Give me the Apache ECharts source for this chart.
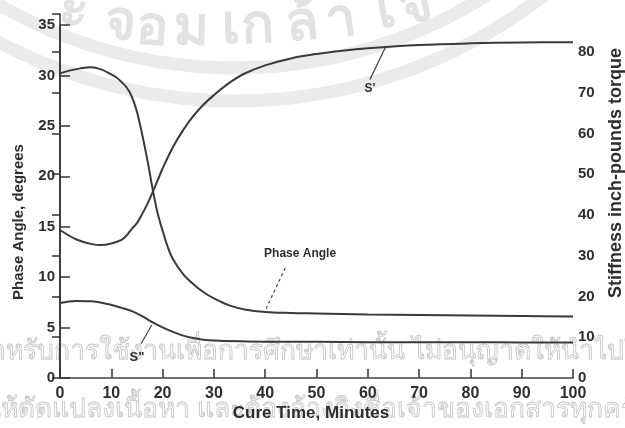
<!DOCTYPE html>
<html>
<head>
<meta charset="utf-8">
<script src="https://cdn.jsdelivr.net/npm/echarts@6/dist/echarts.min.js"></script>
<style>
html,body{margin:0;padding:0;background:#fff;}
#chart{width:625px;height:428px;}
</style>
</head>
<body>
<div id="chart"></div>
<script>
// ---- data ----
const xTicks = [0, 10, 20, 30, 40, 50, 60, 70, 80, 90, 100];
const leftTicks = [0, 5, 10, 15, 20, 25, 30, 35];
const rightTicks = [0, 10, 20, 30, 40, 50, 60, 70, 80];

const phaseTime  = [0, 2, 4, 6, 8, 10, 11, 12, 13, 14, 15, 16, 17, 18, 19, 20, 21, 22, 24, 26, 28, 30, 33, 36, 40, 45, 50, 60, 70, 80, 90, 100];
const phaseAngle = [30.2, 30.5, 30.7, 30.8, 30.6, 30.1, 29.8, 29.35, 28.8, 27.9, 26.4, 24.2, 21.7, 18.9, 16.4, 14.6, 13.0, 11.8, 10.3, 9.3, 8.5, 7.9, 7.2, 6.8, 6.55, 6.45, 6.4, 6.3, 6.25, 6.2, 6.15, 6.1];

const sPrimeTime = [0, 3, 6, 8, 10, 12, 13, 14, 15, 16, 17, 18, 19, 20, 22, 24, 26, 28, 30, 33, 36, 40, 45, 50, 55, 60, 70, 80, 90, 100];
const sPrime     = [36.3, 34.1, 32.9, 32.6, 33.0, 33.9, 35.0, 36.6, 38.0, 40.2, 42.6, 45.4, 48.4, 51.4, 56.6, 60.8, 64.3, 67.1, 69.4, 72.4, 74.7, 76.7, 78.4, 79.5, 80.3, 80.9, 81.7, 82.1, 82.3, 82.4];

const sDoubleTime = [0, 3, 6, 9, 12, 14, 16, 18, 20, 22, 24, 26, 28, 30, 35, 40, 50, 60, 70, 80, 90, 100];
const sDouble     = [18.4, 18.9, 18.8, 18.2, 17.2, 16.4, 15.2, 13.7, 12.4, 11.3, 10.4, 9.8, 9.4, 9.2, 9.0, 8.9, 8.9, 8.8, 8.8, 8.8, 8.7, 8.7];

const seriesNames = ['Phase Angle', "S'", 'S"'];
const xTitle = 'Cure Time, Minutes';
const leftTitle = 'Phase Angle, degrees';
const rightTitle = 'Stiffness inch-pounds torque';

// faint watermark texts of the scanned page
const sealChars = ['ะ', 'จ', 'อ', 'ม', 'เ', 'ก', 'ล้', 'า', 'ใ', 'จ'];
const noticeLine1 = 'สำหรับการใช้งานเพื่อการศึกษาเท่านั้น ไม่อนุญาตให้นำไปใช้';
const noticeLine2 = 'ให้ดัดแปลงเนื้อหา และต้องอ้างอิงชื่อเจ้าของเอกสารทุกครั้ง';

// ---- chart ----
const pairs = (t, v) => t.map((x, i) => [x, v[i]]);
const ink = '#2e2e2e';
const font = '"Liberation Sans", Arial, sans-serif';
const lineStyle = { color: '#3a3a3a', width: 2 };
const tag = (coord, text, size) => ({
  coord: coord, symbol: 'circle', symbolSize: 1,
  itemStyle: { color: 'rgba(0,0,0,0)' },
  label: { show: true, position: 'inside', formatter: text, color: ink,
           fontFamily: font, fontWeight: 'bold', fontSize: size }
});
const leader = (a, b, type) => ({
  symbol: ['none', 'none'], silent: true, animation: false,
  label: { show: false },
  lineStyle: { color: '#444', width: 1.2, type: type },
  data: [[{ coord: a }, { coord: b }]]
});

const axisLabelStyle = { color: ink, fontFamily: font, fontWeight: 'bold', fontSize: 16 };

// seal glyph placement (decorative watermark)
const sealX = [74, 120, 152, 191, 231, 258, 302, 341, 380, 416];
const sealY = [12, 24, 29, 30, 28, 27, 25, 21, 13, 7];
const sealGraphics = sealChars.map((ch, i) => ({
  type: 'text', z: -10, silent: true, x: sealX[i], y: sealY[i], rotation: (sealX[i] - 215) * 0.0011,
  style: { text: ch, fill: '#e2e2e2', font: 'bold 54px sans-serif', align: 'center', verticalAlign: 'middle' }
}));

const option = {
  animation: false,
  backgroundColor: '#fff',
  grid: [
    { left: 60, right: 52, top: 25, bottom: 50 },
    { left: 60, right: 52, top: 14, bottom: 50 }
  ],
  xAxis: [
    { type: 'value', gridIndex: 0, min: 0, max: 100, interval: 10,
      axisLine: { show: true, lineStyle: { color: '#444', width: 1.5 } },
      axisTick: { show: true, inside: true, length: 9, lineStyle: { color: '#333', width: 1.5 } },
      axisLabel: Object.assign({ margin: 8, formatter: v => xTicks.includes(v) ? String(v) : '' }, axisLabelStyle),
      splitLine: { show: false } },
    { type: 'value', gridIndex: 1, min: 0, max: 100, show: false }
  ],
  yAxis: [
    { type: 'value', gridIndex: 0, position: 'left', min: 0, max: 35, interval: 5,
      axisLine: { show: true, lineStyle: { color: '#333', width: 1.5 } },
      axisTick: { show: true, inside: true, length: 10, lineStyle: { color: '#333', width: 1.5 } },
      axisLabel: Object.assign({ margin: 5, formatter: v => leftTicks.includes(v) ? String(v) : '' }, axisLabelStyle, { fontSize: 15 }),
      splitLine: { show: false } },
    { type: 'value', gridIndex: 1, position: 'right', min: 0, max: 89.3, interval: 10,
      axisLine: { show: true, lineStyle: { color: '#333', width: 1.5 } },
      axisTick: { show: true, inside: true, length: 8, lineStyle: { color: '#333', width: 1.5 } },
      axisLabel: Object.assign({ margin: 5, formatter: v => rightTicks.includes(v) ? String(v) : '' }, axisLabelStyle, { fontSize: 15 }),
      splitLine: { show: false } }
  ],
  series: [
    { name: seriesNames[0], type: 'line', xAxisIndex: 0, yAxisIndex: 0,
      data: pairs(phaseTime, phaseAngle), smooth: 0.35, showSymbol: false, lineStyle: lineStyle,
      markPoint: { silent: true, data: [tag([46.8, 12.3], 'Phase Angle', 12)] },
      markLine: leader([43.9, 10.9], [40.2, 6.9], [3, 3]) },
    { name: seriesNames[1], type: 'line', xAxisIndex: 1, yAxisIndex: 1,
      data: pairs(sPrimeTime, sPrime), smooth: 0.35, showSymbol: false, lineStyle: lineStyle,
      markPoint: { silent: true, data: [tag([60.4, 71.0], "S'", 12)] },
      markLine: leader([60.4, 73.2], [63.4, 81.0], 'solid') },
    { name: seriesNames[2], type: 'line', xAxisIndex: 1, yAxisIndex: 1,
      data: pairs(sDoubleTime, sDouble), smooth: 0.35, showSymbol: false, lineStyle: lineStyle,
      markPoint: { silent: true, data: [tag([15.0, 5.0], 'S"', 13)] },
      markLine: leader([15.8, 8.4], [17.9, 13.0], 'solid') }
  ],
  graphic: [
    // watermark (faint)
    { type: 'arc', z: -10, silent: true, shape: { cx: 235, cy: -404, r: 505, startAngle: 0.45, endAngle: 2.5 },
      style: { stroke: '#ebebeb', lineWidth: 13, fill: null } },
    { type: 'arc', z: -10, silent: true, shape: { cx: 235, cy: -404, r: 472, startAngle: 0.45, endAngle: 2.5 },
      style: { stroke: '#ebebeb', lineWidth: 13, fill: null } }
  ].concat(sealGraphics).concat([
    { type: 'text', z: -10, silent: true, x: -25, y: 352,
      style: { text: noticeLine1, fill: 'rgba(0,0,0,0)', stroke: '#c4c4c4', lineWidth: 0.8,
               font: '26.5px sans-serif', align: 'left', verticalAlign: 'middle' } },
    { type: 'text', z: -10, silent: true, x: -12, y: 410,
      style: { text: noticeLine2, fill: 'rgba(0,0,0,0)', stroke: '#c4c4c4', lineWidth: 0.8,
               font: '26.5px sans-serif', align: 'left', verticalAlign: 'middle' } },
    // axis titles
    { type: 'text', silent: true, x: 311, y: 413,
      style: { text: xTitle, fill: ink, font: 'bold 17px "Liberation Sans", Arial, sans-serif', align: 'center', verticalAlign: 'middle' } },
    { type: 'text', silent: true, x: 19, y: 222, rotation: Math.PI / 2,
      style: { text: leftTitle, fill: ink, font: 'bold 15px "Liberation Sans", Arial, sans-serif', align: 'center', verticalAlign: 'middle' } },
    { type: 'text', silent: true, x: 616, y: 173, rotation: Math.PI / 2,
      style: { text: rightTitle, fill: ink, font: 'bold 18px "Liberation Sans", Arial, sans-serif', align: 'center', verticalAlign: 'middle' } }
  ])
};

const chart = echarts.init(document.getElementById('chart'), null, { renderer: 'canvas' });
chart.setOption(option);
</script>
</body>
</html>
